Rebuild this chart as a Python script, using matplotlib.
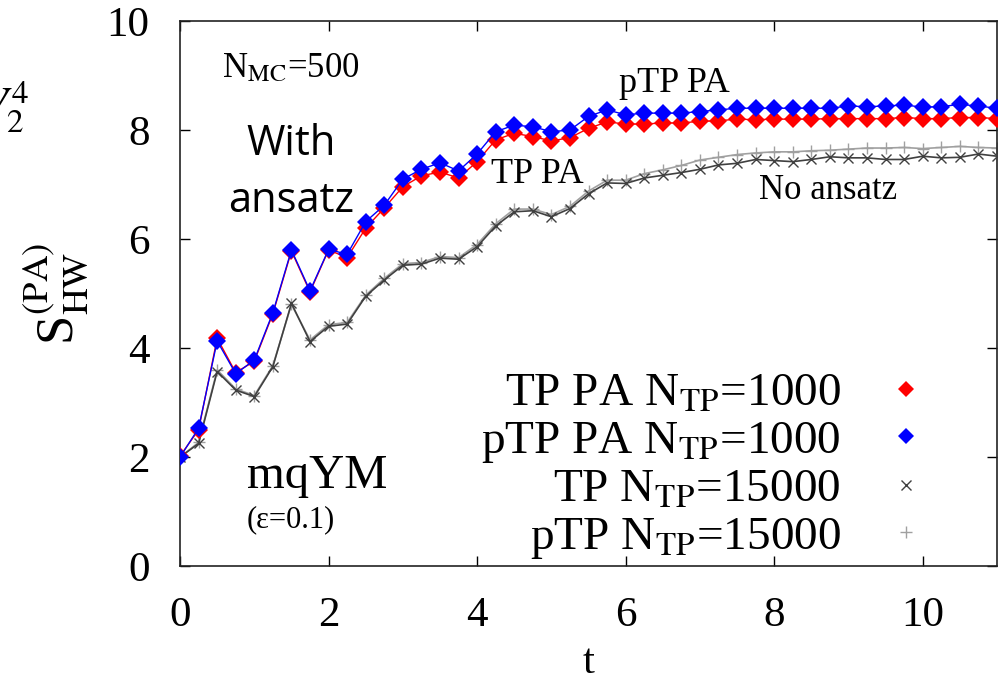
import numpy as np
import matplotlib.pyplot as plt
from matplotlib.lines import Line2D

plt.rcParams['font.family'] = ['Liberation Serif', 'DejaVu Serif']
plt.rcParams['mathtext.fontset'] = 'stix'

# time grid of the markers (every 0.25)
t = np.arange(0, 11.01, 0.25)

# TP PA, N_TP=1000 (red)
tp_pa = [2.02, 2.50, 4.18, 3.55, 3.76, 4.63, 5.78, 5.03, 5.80, 5.66,
         6.20, 6.57, 6.96, 7.16, 7.23, 7.12, 7.42, 7.82, 7.94, 7.88,
         7.80, 7.86, 8.03, 8.15, 8.11, 8.11, 8.13, 8.13, 8.16, 8.17,
         8.20, 8.19, 8.20, 8.20, 8.20, 8.21, 8.21, 8.21, 8.21, 8.23,
         8.21, 8.21, 8.23, 8.23, 8.21]

# pTP PA, N_TP=1000 (blue)
ptp_pa = [2.00, 2.53, 4.13, 3.53, 3.78, 4.65, 5.80, 5.05, 5.81, 5.72,
          6.32, 6.62, 7.10, 7.28, 7.40, 7.25, 7.56, 7.97, 8.09, 8.06,
          7.97, 8.00, 8.25, 8.37, 8.28, 8.31, 8.31, 8.31, 8.34, 8.37,
          8.40, 8.40, 8.40, 8.40, 8.40, 8.40, 8.44, 8.43, 8.44, 8.46,
          8.42, 8.43, 8.47, 8.44, 8.40]

# TP, N_TP=15000 (no ansatz)
tp = [2.00, 2.25, 3.57, 3.23, 3.11, 3.66, 4.82, 4.12, 4.40, 4.44,
      4.95, 5.25, 5.52, 5.54, 5.65, 5.63, 5.86, 6.24, 6.50, 6.52,
      6.41, 6.56, 6.83, 7.03, 7.02, 7.12, 7.17, 7.22, 7.28, 7.36,
      7.39, 7.46, 7.44, 7.42, 7.46, 7.51, 7.49, 7.49, 7.46, 7.46,
      7.52, 7.49, 7.50, 7.56, 7.52]

# pTP, N_TP=15000 (no ansatz)
ptp = [2.00, 2.27, 3.60, 3.25, 3.13, 3.68, 4.80, 4.15, 4.43, 4.47,
       4.97, 5.28, 5.55, 5.57, 5.68, 5.66, 5.90, 6.28, 6.55, 6.55,
       6.45, 6.60, 6.88, 7.08, 7.08, 7.20, 7.27, 7.35, 7.45, 7.50,
       7.55, 7.58, 7.60, 7.60, 7.62, 7.63, 7.65, 7.67, 7.67, 7.68,
       7.66, 7.68, 7.70, 7.68, 7.67]

labels = [r'TP PA N$_{\rm TP}$=1000', r'pTP PA N$_{\rm TP}$=1000',
          r'TP N$_{\rm TP}$=15000', r'pTP N$_{\rm TP}$=15000']

fig = plt.figure(figsize=(10.03, 6.78), dpi=100)
ax = fig.add_axes([0.1795, 0.165, 0.8145, 0.804])

# lines with markers
ax.plot(t, ptp, color='#a0a0a0', lw=1.2, marker='+', ms=9, mew=1.0, zorder=2)
ax.plot(t, tp, color='#404040', lw=1.2, marker='x', ms=7, mew=1.0, zorder=3)
ax.plot(t, tp_pa, color='red', lw=1.0, marker='D', ms=9, mew=0, zorder=4)
ax.plot(t, ptp_pa, color='blue', lw=1.0, marker='D', ms=9, mew=0, zorder=5)

ax.set_xlim(0, 11)
ax.set_ylim(0, 10)
ax.set_xticks([0, 2, 4, 6, 8, 10])
ax.set_yticks([0, 2, 4, 6, 8, 10])
ax.tick_params(direction='in', top=True, right=True, length=7, width=1,
               labelsize=31, pad=22)
for s in ax.spines.values():
    s.set_linewidth(1.2)
    s.set_color('#222222')

ax.set_xlabel('t', fontsize=31, labelpad=6)
ax.set_ylabel(r'S$^{\rm (PA)}_{\rm HW}$', fontsize=38, labelpad=12)

# legend: text first, marker on the right
handles = [Line2D([], [], ls='none', marker='D', color='red', ms=8, mew=0),
           Line2D([], [], ls='none', marker='D', color='blue', ms=8, mew=0),
           Line2D([], [], ls='none', marker='x', color='#404040', ms=7, mew=1),
           Line2D([], [], ls='none', marker='+', color='#a0a0a0', ms=9, mew=1)]
ax.legend(handles, labels, loc='lower right', bbox_to_anchor=(0.969, -0.068),
          markerfirst=False, frameon=False, fontsize=34, handlelength=1.0,
          handletextpad=0.87, labelspacing=0.085)

# annotations
ax.text(0.57, 8.97, r'N$_{\rm MC}$=500', fontsize=25)
ax.text(1.5, 7.22, 'With\nansatz', fontsize=30, family='Open Sans',
        ha='center', va='center', linespacing=1.45)
ax.text(5.91, 8.70, 'pTP PA', fontsize=26)
ax.text(4.19, 7.03, 'TP PA', fontsize=26)
ax.text(7.80, 6.73, 'No ansatz', fontsize=25)
ax.text(0.90, 1.43, 'mqYM', fontsize=35)
ax.text(0.90, 0.72, '(\u03b5=0.1)', fontsize=22)

# fragments of the neighbouring panel at the left edge
fig.text(0.029, 0.822, r'$V_2^4$', fontsize=34, ha='right')
fig.text(-0.02, 0.255, ')', fontsize=40, fontweight='bold')

fig.savefig('out.png', dpi=100)
